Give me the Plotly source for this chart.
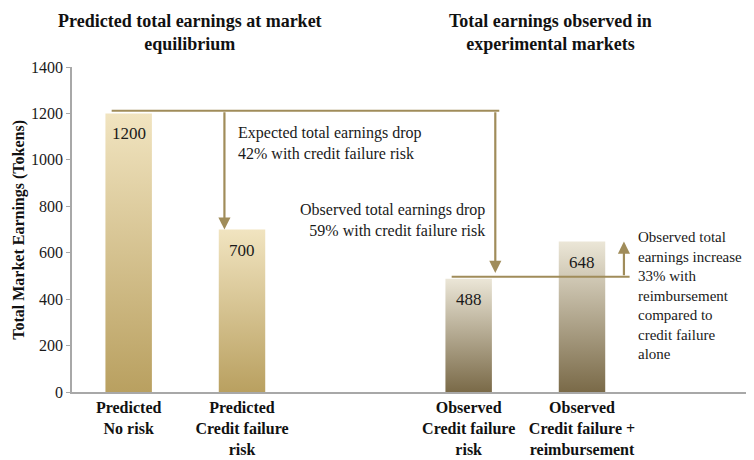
import plotly.graph_objects as go

# ---- data ----
categories = ["Predicted<br>No risk", "Predicted<br>Credit failure<br>risk",
              "Observed<br>Credit failure<br>risk", "Observed<br>Credit failure +<br>reimbursement"]
positions = [0, 1, 3, 4]
values = [1200, 700, 488, 648]
y_ticks = [0, 200, 400, 600, 800, 1000, 1200, 1400]
titles = ["Predicted total earnings at market<br>equilibrium",
          "Total earnings observed in<br>experimental markets"]
notes = ["Expected total earnings drop<br>42% with credit failure risk",
         "Observed total earnings drop<br>59% with credit failure risk",
         "Observed total<br>earnings increase<br>33% with<br>reimbursement<br>compared to<br>credit failure<br>alone"]

# ---- style ----
FONT = "Liberation Serif, Times New Roman, serif"
BAR_W = 0.41
grad_pred = [[0, "#b9a060"], [1, "#f1e4c0"]]
grad_obs = [[0, "#7a6a48"], [1, "#ebe6d7"]]
LINE_C = "#a08c5a"
TXT = "#1a1a1a"

fig = go.Figure()
for i, (p, v) in enumerate(zip(positions, values)):
    cs = grad_pred if i < 2 else grad_obs
    fig.add_trace(go.Scatter(
        x=[p - BAR_W / 2, p + BAR_W / 2, p + BAR_W / 2, p - BAR_W / 2, p - BAR_W / 2],
        y=[0, 0, v, v, 0],
        mode="lines", line=dict(width=0), fill="toself",
        fillgradient=dict(type="vertical", colorscale=cs, start=0, stop=v),
        hoverinfo="skip", showlegend=False))
    fig.add_annotation(x=p, y=v, xref="x", yref="y", text=str(v), showarrow=False,
                       yanchor="top", yshift=-9, font=dict(family=FONT, size=17, color=TXT))

# horizontal reference lines
top_line_y = values[0] + 12
fig.add_shape(type="line", x0=-0.15, x1=3.27, y0=top_line_y, y1=top_line_y,
              xref="x", yref="y", line=dict(color=LINE_C, width=2))
fig.add_shape(type="line", x0=2.85, x1=4.42, y0=values[2] + 8, y1=values[2] + 8,
              xref="x", yref="y", line=dict(color=LINE_C, width=2))

# arrows
def arrow(x, y_from, y_to):
    fig.add_annotation(x=x, y=y_to, ax=x, ay=y_from, xref="x", yref="y", axref="x", ayref="y",
                       text="", showarrow=True, arrowhead=2, arrowsize=1.1, arrowwidth=2.2,
                       arrowcolor=LINE_C, standoff=0, startstandoff=0)

arrow(0.845, top_line_y, values[1])
arrow(3.235, top_line_y, values[2] + 25)
arrow(4.37, values[2] + 8, values[3])

# notes
fig.add_annotation(x=0.95, y=1073, xref="x", yref="y", text=notes[0], showarrow=False,
                   xanchor="left", yanchor="middle", align="left",
                   font=dict(family=FONT, size=16, color=TXT))
fig.add_annotation(x=3.16, y=743, xref="x", yref="y", text=notes[1], showarrow=False,
                   xanchor="right", yanchor="middle", align="right",
                   font=dict(family=FONT, size=16, color=TXT))
fig.add_annotation(x=4.48, y=414, xref="x", yref="y", text=notes[2], showarrow=False,
                   xanchor="left", yanchor="middle", align="left",
                   font=dict(family=FONT, size=15, color=TXT))

# titles
for tx, t in zip([0.174, 0.704], titles):
    fig.add_annotation(x=tx, y=1.105, xref="paper", yref="paper", text="<b>" + t + "</b>",
                       showarrow=False, xanchor="center", yanchor="middle",
                       font=dict(family=FONT, size=18, color="#111"))

fig.add_annotation(x=-0.079, y=0.5, xref="paper", yref="paper",
                   text="<b>Total Market Earnings (Tokens)</b>", textangle=-90,
                   showarrow=False, xanchor="center", yanchor="middle",
                   font=dict(family=FONT, size=16, color="#111"))

# page body has an 8px margin, so the figure is sized to fill the rest of the window
fig.update_layout(
    width=746, height=452,
    margin=dict(l=64, r=2, t=59, b=68, autoexpand=False),
    paper_bgcolor="white", plot_bgcolor="white",
    font=dict(family=FONT, size=16, color=TXT),
    showlegend=False,
    xaxis=dict(range=[-0.5, 5.5], tickvals=positions,
               ticktext=["<b>" + c + "</b>" for c in categories],
               showgrid=False, zeroline=False, showline=True, linecolor="#a8a8a8", linewidth=1.5,
               ticks="", tickfont=dict(family=FONT, size=16, color="#111")),
    yaxis=dict(range=[0, 1400], tickvals=y_ticks, showgrid=False, zeroline=False,
               showline=True, linecolor="#a8a8a8", linewidth=1.5, ticks="outside",
               ticklen=4, tickcolor="#a8a8a8",
               tickfont=dict(family=FONT, size=16, color=TXT)),
)

fig.write_html("out.html")
